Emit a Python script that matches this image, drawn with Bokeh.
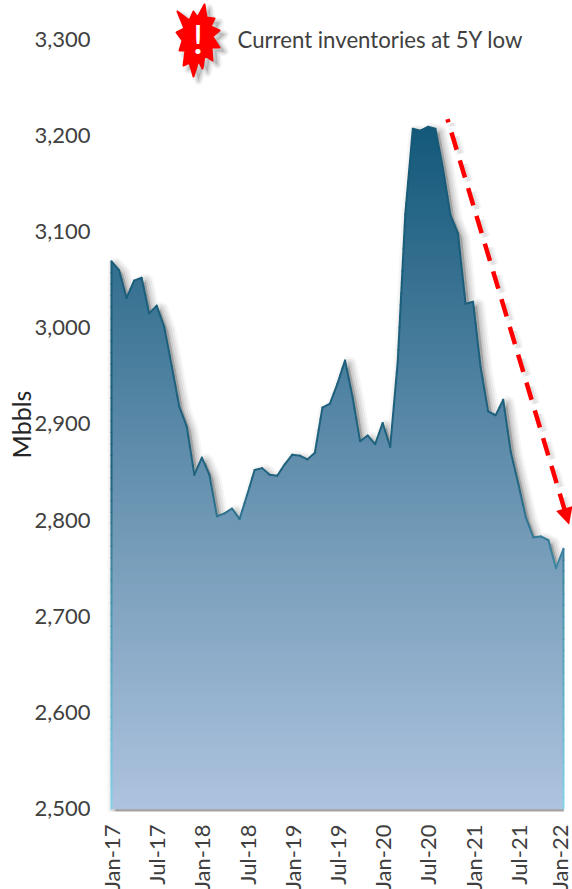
import math
import numpy as np
from bokeh.core.properties import value
from bokeh.embed import file_html
from bokeh.models import Arrow, FixedTicker, NormalHead, NumeralTickFormatter, Range1d
from bokeh.plotting import figure
from bokeh.resources import INLINE

# Monthly crude inventories, Jan-17 to Jan-22, in million barrels
months = list(range(61))
inventory = [
    3069, 3060, 3031, 3049, 3052, 3015, 3023, 3001, 2960, 2918, 2897, 2847,
    2865, 2847, 2804, 2807, 2812, 2801, 2826, 2852, 2854, 2847, 2846, 2858,
    2868, 2867, 2863, 2870, 2917, 2921, 2942, 2966, 2928, 2882, 2888, 2879,
    2901, 2876, 2965, 3118, 3207, 3205, 3209, 3207, 3166, 3117, 3098, 3025,
    3027, 2959, 2913, 2909, 2925, 2871, 2838, 2803, 2782, 2783, 2779, 2750,
    2770,
]
tick_months = [0, 6, 12, 18, 24, 30, 36, 42, 48, 54, 60]
tick_labels = ["Jan-17", "Jul-17", "Jan-18", "Jul-18", "Jan-19", "Jul-19",
               "Jan-20", "Jul-20", "Jan-21", "Jul-21", "Jan-22"]
value_ticks = [2500, 2600, 2700, 2800, 2900, 3000, 3100, 3200, 3300]
value_title = "Mbbls"
callout = "Current inventories at 5Y low"

# Downward trend arrow, in month / Mbbl coordinates
trend_start = (44.6, 3217)
trend_end = (60.75, 2795)

# Warning burst outline, pixel offsets from its centre
burst_dx = [6, 8, 16, 12, 21, 14, 21, 13, 14, 6, 4, 0, -5, -9, -15, -13, -19, -16,
            -22, -14, -21, -9, -5, -1]
burst_dy = [-36, -23, -22, -14, -10, -4, 7, 7, 20, 15, 28, 20, 36, 22, 25, 10, 10, 0,
            -8, -12, -29, -20, -29, -23]

PX_X = 7.533     # pixels per month
PX_Y = 0.9615    # pixels per Mbbl
AXIS_PX = 100
BASE = 2500
BASE_PX = 808
SHADOW_FLOOR_PX = 811
vals = np.array(inventory, dtype=float)
xs = np.array(months, dtype=float)


def to_x(px):
    return (px - 111) / PX_X


def to_y(py):
    return BASE + (BASE_PX - py) / PX_Y


def lerp_hex(stops, v):
    lv = [s[0] for s in stops]
    chans = [np.interp(v, lv, [int(s[1][i:i + 2], 16) for s in stops]) for i in (1, 3, 5)]
    return "#%02x%02x%02x" % tuple(int(round(c)) for c in chans)


FILL_STOPS = [(2500, "#aec3df"), (2800, "#6f98b5"), (3210, "#13587a")]
EDGE_STOPS = [(2500, "#84d3ea"), (2700, "#4f98b4"), (2850, "#20637f"), (3210, "#165a78")]


def profile_below(level):
    """Outline of the area under the series, capped at a given level."""
    px, py = [0.0], [BASE]
    for i in range(len(vals)):
        px.append(xs[i])
        py.append(min(vals[i], level))
        if i + 1 < len(vals) and (vals[i] - level) * (vals[i + 1] - level) < 0:
            t = (level - vals[i]) / (vals[i + 1] - vals[i])
            px.append(xs[i] + t)
            py.append(level)
    px.append(60.0)
    py.append(BASE)
    return px, py


def along_trend(f):
    return (trend_start[0] + (trend_end[0] - trend_start[0]) * f,
            trend_start[1] + (trend_end[1] - trend_start[1]) * f)


# The plot area fills the page; both axes are pinned inside it at fixed data locations
p = figure(width=572, height=889, output_backend="svg", toolbar_location=None,
           x_range=Range1d(to_x(0), to_x(572)),
           y_range=Range1d(to_y(889), to_y(0)),
           min_border_left=0, min_border_right=0, min_border_top=0, min_border_bottom=0)
p.outline_line_color = None
p.grid.visible = False
p.background_fill_color = "white"
p.border_fill_color = "white"

# Axes
p.yaxis.fixed_location = to_x(AXIS_PX)
p.yaxis.ticker = FixedTicker(ticks=value_ticks)
p.yaxis.formatter = NumeralTickFormatter(format="0,0")
p.yaxis.major_label_standoff = 10
p.yaxis.major_label_text_font = "Lato"
p.yaxis.major_label_text_font_size = "22px"
p.yaxis.major_label_text_color = "#404040"
p.xaxis.fixed_location = to_y(SHADOW_FLOOR_PX)
p.xaxis.ticker = FixedTicker(ticks=tick_months)
p.xaxis.major_label_overrides = dict(zip(tick_months, tick_labels))
p.xaxis.major_label_orientation = math.pi / 2
p.xaxis.major_label_standoff = 13
p.xaxis.major_label_text_font = "Lato"
p.xaxis.major_label_text_font_size = "22px"
p.xaxis.major_label_text_color = "#404040"
for ax in (p.xaxis, p.yaxis):
    ax.axis_line_color = None
    ax.major_tick_line_color = None
    ax.minor_tick_line_color = None
    ax.major_tick_out = 0
    ax.major_tick_in = 0

# Value-axis title, centred on the tick span
p.text([to_x(20)], [to_y(424)], text=[value_title], angle=math.pi / 2, text_color="#262626",
       text_font=value("Lato"), text_font_size="25px", text_align="center",
       text_baseline="middle")

# Soft drop shadow behind the area, offset right and down
sx, sy = profile_below(99999)
sx = [x + 4.0 / PX_X for x in sx]
sy = [y - 4.0 / PX_Y for y in sy]
for w, a in zip((16, 12, 8, 4), (0.035, 0.05, 0.06, 0.08)):
    p.patch(sx, sy, fill_color="#000000", fill_alpha=0.0, line_color="#000000",
            line_alpha=a, line_width=w, line_join="round")
p.patch(sx, sy, fill_color="#808080", fill_alpha=0.55, line_color=None)
# The shadow stops at the right edge of the area and just under its base
p.quad(left=[60.05], right=[to_x(590)], bottom=[to_y(900)], top=[to_y(-10)],
       fill_color="white", line_color=None)
p.quad(left=[to_x(90)], right=[to_x(590)], bottom=[to_y(900)], top=[to_y(SHADOW_FLOOR_PX)],
       fill_color="white", line_color=None)

# Vertical gradient fill: nested areas painted from the top level downward
levels = np.arange(int(vals.max()) + 3, BASE, -3)
patch_x, patch_y, patch_c = [], [], []
for lv in levels:
    a, b = profile_below(float(lv))
    patch_x.append(a)
    patch_y.append(b)
    patch_c.append(lerp_hex(FILL_STOPS, lv - 1.5))
p.patches(patch_x, patch_y, fill_color=patch_c, line_color=None)

# Outline with its own gradient, darker at the top and pale near the base
path_x = [0.0] + list(xs) + [60.0]
path_y = [BASE] + list(vals) + [BASE]
seg_x, seg_y, seg_c = [], [], []
for i in range(len(path_x) - 1):
    n = int(abs(path_y[i + 1] - path_y[i]) // 12) + 1
    for k in range(n):
        t0, t1 = k / n, (k + 1) / n
        x0 = path_x[i] + (path_x[i + 1] - path_x[i]) * t0
        x1 = path_x[i] + (path_x[i + 1] - path_x[i]) * t1
        y0 = path_y[i] + (path_y[i + 1] - path_y[i]) * t0
        y1 = path_y[i] + (path_y[i + 1] - path_y[i]) * t1
        seg_x.append([x0, x1])
        seg_y.append([y0, y1])
        seg_c.append(lerp_hex(EDGE_STOPS, (y0 + y1) / 2))
p.multi_line(seg_x, seg_y, line_color=seg_c, line_width=2, line_cap="round")

# Trend arrow: a short lead-in stub, the dashed shaft and the head, each with a soft shadow
off_x, off_y = 4.0 / PX_X, 4.0 / PX_Y
stub_a, stub_b = along_trend(0.0), along_trend(0.008)
shaft_a, shaft_b = along_trend(0.033), along_trend(0.965)
for a_pt, b_pt, dash in ((stub_a, stub_b, "solid"), (shaft_a, shaft_b, "18 11")):
    for w, a in zip((10, 7, 4), (0.025, 0.035, 0.05)):
        p.line([a_pt[0] + off_x, b_pt[0] + off_x], [a_pt[1] - off_y, b_pt[1] - off_y],
               line_color="#000000", line_alpha=a, line_width=w, line_dash=dash)
    p.line([a_pt[0], b_pt[0]], [a_pt[1], b_pt[1]], line_color="#ff0000", line_width=4.5,
           line_dash=dash)
p.add_layout(Arrow(end=NormalHead(size=17, fill_color="#ff0000", line_color=None),
                   x_start=shaft_b[0], y_start=shaft_b[1],
                   x_end=trend_end[0], y_end=trend_end[1],
                   line_color="#ff0000", line_width=4.5))

# Warning burst with its exclamation mark
cx, cy = 198.0, 40.0
bx = [cx + d for d in burst_dx]
by = [cy + d for d in burst_dy]
for w, a in zip((9, 6, 3), (0.04, 0.06, 0.08)):
    p.patch([to_x(v + 5) for v in bx], [to_y(v + 4) for v in by], fill_color="#808080",
            fill_alpha=0.1, line_color="#000000", line_alpha=a, line_width=w, line_join="round")
p.patch([to_x(v) for v in bx], [to_y(v) for v in by], fill_color="#ff0000",
        line_color="#ff0000", line_width=2, line_join="round")
p.text([to_x(197.5)], [to_y(38)], text=["!"], text_color="white", text_font=value("Lato"),
       text_font_size="41px", text_align="center", text_baseline="middle")

p.text([to_x(237)], [to_y(39)], text=[callout], text_color="#404040", text_font=value("Lato"),
       text_font_size="22.2px", text_align="left", text_baseline="middle")

open("out.html", "w").write(file_html(p, INLINE))
